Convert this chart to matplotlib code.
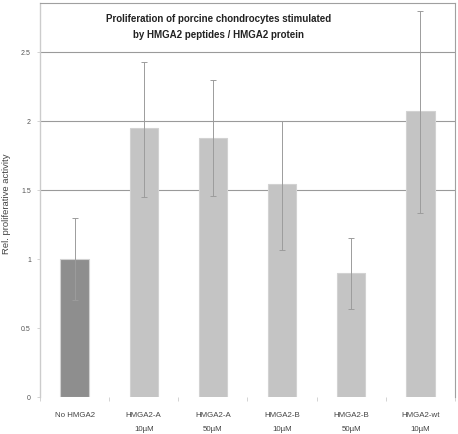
import matplotlib
matplotlib.use("Agg")
import matplotlib.pyplot as plt
import numpy as np

plt.rcParams['font.family'] = ['Liberation Sans', 'DejaVu Sans']

categories = ["No HMGA2", "HMGA2-A\n10µM", "HMGA2-A\n50µM", "HMGA2-B\n10µM", "HMGA2-B\n50µM", "HMGA2-wt\n10µM"]
values = [1.00, 1.95, 1.88, 1.54, 0.90, 2.07]
err_low = [0.70, 1.45, 1.46, 1.065, 0.64, 1.33]
err_high = [1.30, 2.43, 2.30, 2.00, 1.15, 2.80]
bar_colors = ["#8e8e8e", "#c4c4c4", "#c4c4c4", "#c4c4c4", "#c4c4c4", "#c4c4c4"]
yticks = [0, 0.5, 1, 1.5, 2, 2.5]
ytick_labels = ["0", "0.5", "1", "1.5", "2", "2.5"]
grid_levels = [1.5, 2, 2.5]
title = "Proliferation of porcine chondrocytes stimulated\nby HMGA2 peptides / HMGA2 protein"
ylabel = "Rel. proliferative activity"

fig = plt.figure(figsize=(4.58, 4.35), dpi=100)
ax = fig.add_axes([40/458, 37/435, 415/458, 394/435])

x = np.arange(len(categories))
vals = np.array(values)
lo = vals - np.array(err_low)
hi = np.array(err_high) - vals

for g in grid_levels:
    ax.axhline(g, color="#9a9a9a", lw=0.8, zorder=0)

ax.bar(x, vals, width=0.41, color=bar_colors, edgecolor="#d2d2d2", linewidth=0.8, zorder=2)
ax.errorbar(x, vals, yerr=[lo, hi], fmt="none", ecolor="#9c9c9c", elinewidth=0.7,
            capsize=2.5, capthick=0.7, zorder=3)

ax.set_xlim(-0.5, len(categories) - 0.5)
ax.set_ylim(0, 2.855)
ax.set_yticks(yticks)
ax.set_yticklabels(ytick_labels, fontsize=5, color="#555555")
ax.tick_params(axis="y", length=2.5, width=0.6, color="#cccccc", pad=4)
ax.set_xticks(x)
ax.set_xticklabels(categories, fontsize=5.7, color="#444444", linespacing=2.4)
ax.tick_params(axis="x", length=0, pad=10)
ax.set_xticks(np.arange(len(categories) + 1) - 0.5, minor=True)
ax.tick_params(axis="x", which="minor", length=3, color="#cccccc", width=0.6)

for s in ["top", "right"]:
    ax.spines[s].set_color("#a0a0a0")
    ax.spines[s].set_linewidth(0.8)
ax.spines["left"].set_color("#cccccc")
ax.spines["left"].set_linewidth(1.0)
ax.spines["bottom"].set_visible(False)

ax.set_ylabel(ylabel, fontsize=6.8, color="#444444")
ax.yaxis.set_label_coords(-0.071, 0.492)
ax.text(0.43, 0.975, title, transform=ax.transAxes, ha="center", va="top",
        fontsize=7.0, fontweight="bold", color="#222222", linespacing=1.75)

fig.savefig("out.png", dpi=100, facecolor="white")
